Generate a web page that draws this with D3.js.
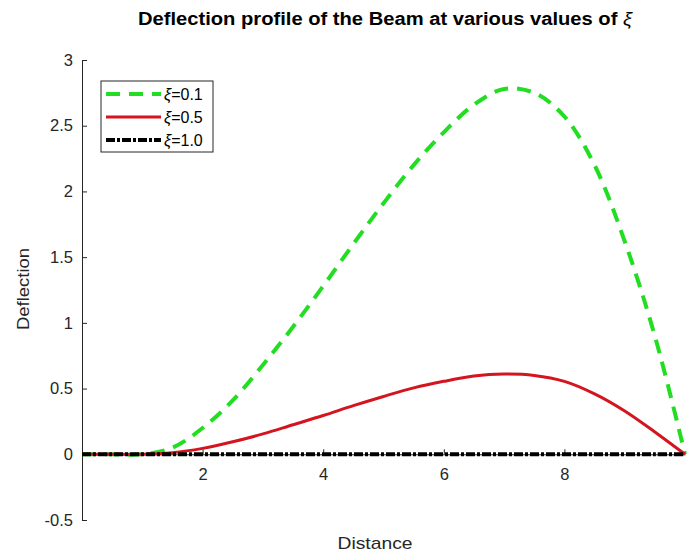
<!DOCTYPE html>
<html>
<head>
<meta charset="utf-8">
<script src="https://cdn.jsdelivr.net/npm/d3@7"></script>
<style>
  body { margin: 0; background: #fff; }
  svg { font-family: "Liberation Sans", Arial, Helvetica, sans-serif; }
</style>
</head>
<body>
<svg width="687" height="554"></svg>
<script>
// distance samples along the beam
var distance = [0, 0.5, 1, 1.5, 2, 2.5, 3, 3.5, 4, 4.5, 5, 5.5, 6, 6.5, 7, 7.5, 8, 8.5, 9, 9.5, 10];
// deflection, one array per xi value
var xi01 = [0, 0, 0, 0.05, 0.2, 0.41, 0.68, 0.97, 1.28, 1.6, 1.91, 2.2, 2.45, 2.66, 2.78, 2.75, 2.57, 2.2, 1.62, 0.9, 0];
var xi05 = [0, 0, 0, 0.012, 0.045, 0.095, 0.155, 0.225, 0.295, 0.37, 0.44, 0.505, 0.555, 0.595, 0.61, 0.6, 0.555, 0.46, 0.33, 0.17, 0];
var xi10 = [0, 0, 0, 0, 0, 0, 0, 0, 0, 0, 0, 0, 0, 0, 0, 0, 0, 0, 0, 0, 0];
var legendLabels = ["=0.1", "=0.5", "=1.0"];
var xTicks = [2, 4, 6, 8];
var yTicks = [-0.5, 0, 0.5, 1, 1.5, 2, 2.5, 3];

var svg = d3.select("svg");

var x = d3.scaleLinear().domain([0, 10]).range([82, 685]);
var y = d3.scaleLinear().domain([-0.5, 3]).range([520, 60]);

var series = [
  { values: xi01, color: "#22dd22", width: 4, dash: "14,9" },
  { values: xi05, color: "#d4141e", width: 3, dash: null },
  { values: xi10, color: "#000000", width: 4, dash: "9,2,3,2" }
];

// plain hyphen for negatives, like the original
var tickFmt = function(d) { return String(d); };

// title with italic xi
var title = svg.append("text")
  .attr("x", 385)
  .attr("y", 25)
  .attr("text-anchor", "middle")
  .attr("textLength", 494)
  .attr("lengthAdjust", "spacingAndGlyphs")
  .style("font-size", "18px")
  .style("font-weight", "bold")
  .style("fill", "#000");
title.append("tspan").text("Deflection profile of the Beam at various values of ");
title.append("tspan").style("font-style", "italic").style("font-weight", "normal").text("ξ");

// y axis
var yAxis = svg.append("g")
  .attr("transform", "translate(82,0)")
  .call(d3.axisLeft(y).tickValues(yTicks).tickSizeInner(-5).tickSizeOuter(0).tickPadding(9)
    .tickFormat(tickFmt));
yAxis.select(".domain").attr("stroke", "#262626");
yAxis.selectAll(".tick line").attr("stroke", "#262626");
yAxis.selectAll("text").style("font-size", "16.5px").style("fill", "#262626");

// x axis sits on y = 0
var xAxis = svg.append("g")
  .attr("transform", "translate(0," + y(0) + ")")
  .call(d3.axisBottom(x).tickValues(xTicks).tickSizeInner(-5).tickSizeOuter(0).tickPadding(14)
    .tickFormat(tickFmt));
xAxis.select(".domain").attr("stroke", "#262626");
xAxis.selectAll(".tick line").attr("stroke", "#262626");
xAxis.selectAll("text").style("font-size", "16.5px").style("fill", "#262626");

var line = d3.line()
  .x(function(d, i) { return x(distance[i]); })
  .y(function(d) { return y(d); })
  .curve(d3.curveCatmullRom);

series.forEach(function(s) {
  svg.append("path")
    .datum(s.values)
    .attr("d", line)
    .attr("fill", "none")
    .attr("stroke", s.color)
    .attr("stroke-width", s.width)
    .attr("stroke-dasharray", s.dash);
});

// axis labels
svg.append("text")
  .attr("x", 375)
  .attr("y", 549)
  .attr("text-anchor", "middle")
  .attr("textLength", 75)
  .attr("lengthAdjust", "spacingAndGlyphs")
  .style("font-size", "17px")
  .style("fill", "#262626")
  .text("Distance");

svg.append("text")
  .attr("transform", "translate(29,289) rotate(-90)")
  .attr("text-anchor", "middle")
  .attr("textLength", 82)
  .attr("lengthAdjust", "spacingAndGlyphs")
  .style("font-size", "17px")
  .style("fill", "#262626")
  .text("Deflection");

// legend
var legend = svg.append("g");
legend.append("rect")
  .attr("x", 101).attr("y", 81)
  .attr("width", 112).attr("height", 71)
  .attr("fill", "#fff")
  .attr("stroke", "#262626")
  .attr("stroke-width", 1);

series.forEach(function(s, i) {
  var yy = 94 + i * 23;
  legend.append("line")
    .attr("x1", 106).attr("x2", 161)
    .attr("y1", yy).attr("y2", yy)
    .attr("stroke", s.color)
    .attr("stroke-width", s.width)
    .attr("stroke-dasharray", s.dash);
  var t = legend.append("text")
    .attr("x", 164).attr("y", yy + 6)
    .style("font-size", "16px")
    .style("fill", "#000");
  t.append("tspan").style("font-style", "italic").text("ξ");
  t.append("tspan").text(legendLabels[i]);
});
</script>
</body>
</html>
